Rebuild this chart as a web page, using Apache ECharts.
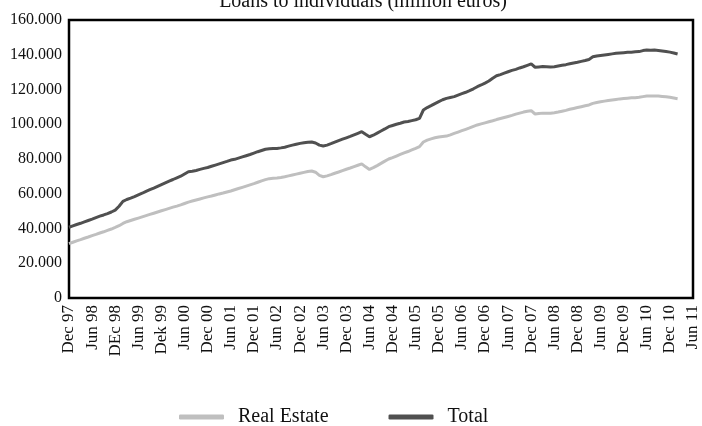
<!DOCTYPE html>
<html>
<head>
<meta charset="utf-8">
<script src="https://cdn.jsdelivr.net/npm/echarts@6/dist/echarts.min.js"></script>
<style>
  html, body { margin: 0; padding: 0; background: #fff; }
  #chart { width: 702px; height: 426px; }
</style>
</head>
<body>
<div id="chart"></div>
<script>
// half-year tick labels, as printed (typos kept)
var tickLabels = ['Dec 97', 'Jun 98', 'DEc 98', 'Jun 99', 'Dek 99', 'Jun 00', 'Dec 00',
  'Jun 01', 'Dec 01', 'Jun 02', 'Dec 02', 'Jun 03', 'Dec 03', 'Jun 04', 'Dec 04',
  'Jun 05', 'Dec 05', 'Jun 06', 'Dec 06', 'Jun 07', 'Dec 07', 'Jun 08', 'Dec 08',
  'Jun 09', 'Dec 09', 'Jun 10', 'Dec 10', 'Jun 11']

// monthly values Dec 97 .. Feb 11, thousands of million euros
var realEstate = [
  31.3, 32.1, 32.9, 33.6, 34.4, 35.1, 35.9, 36.6, 37.4, 38.1, 38.9, 39.7, 40.6,
  41.6, 42.9, 43.9, 44.6, 45.3, 46.0, 46.7, 47.4, 48.1, 48.8, 49.5, 50.2,
  50.9, 51.6, 52.3, 52.9, 53.6, 54.4, 55.2, 55.8, 56.4, 57.0, 57.6, 58.2,
  58.7, 59.3, 59.9, 60.4, 61.0, 61.6, 62.3, 63.0, 63.7, 64.4, 65.1, 65.8,
  66.6, 67.4, 68.1, 68.7, 68.9, 69.1, 69.4, 69.8, 70.3, 70.8, 71.3, 71.8,
  72.3, 72.8, 73.1, 72.4, 70.6, 69.8, 70.3, 71.0, 71.8, 72.5, 73.3, 74.1,
  74.8, 75.6, 76.4, 77.2, 75.5, 74.0, 75.0, 76.2, 77.5, 78.8, 80.0, 80.8,
  81.7, 82.6, 83.5, 84.3, 85.2, 86.1, 87.1, 89.8, 90.9, 91.6, 92.2, 92.7,
  93.0, 93.2, 93.9, 94.7, 95.5, 96.3, 97.1, 97.9, 98.8, 99.6, 100.2, 100.8,
  101.4, 102.0, 102.7, 103.3, 103.9, 104.5, 105.1, 105.8, 106.4, 107.0, 107.5, 107.8,
  105.9, 106.2, 106.4, 106.3, 106.3, 106.6, 107.0, 107.5, 108.0, 108.6, 109.1, 109.6,
  110.1, 110.6, 111.1, 112.0, 112.5, 112.9, 113.3, 113.7, 114.0, 114.3, 114.6, 114.8,
  115.0, 115.2, 115.3, 115.5, 115.9, 116.2, 116.2, 116.3, 116.2, 116.0, 115.8, 115.5,
  115.1, 114.7
]
var total = [
  40.7, 41.5, 42.3, 43.0, 43.8, 44.6, 45.4, 46.3, 47.1, 47.8, 48.6, 49.5, 50.6,
  52.8, 55.6, 56.7, 57.5, 58.4, 59.4, 60.3, 61.4, 62.4, 63.3, 64.3, 65.3,
  66.3, 67.3, 68.2, 69.2, 70.1, 71.4, 72.7, 72.9, 73.4, 74.0, 74.6, 75.1,
  75.8, 76.5, 77.2, 77.9, 78.6, 79.4, 79.8, 80.5, 81.2, 81.9, 82.6, 83.4,
  84.2, 84.9, 85.6, 85.9, 86.1, 86.1, 86.4, 86.8, 87.4, 88.0, 88.5, 89.0,
  89.4, 89.7, 89.8, 89.2, 88.0, 87.5, 88.0, 88.8, 89.7, 90.6, 91.4, 92.2,
  93.0, 93.9, 94.8, 95.7, 94.2, 92.8, 93.7, 94.9, 96.1, 97.3, 98.6, 99.3,
  100.0, 100.6, 101.3, 101.6, 102.1, 102.6, 103.4, 108.2, 109.6, 110.7, 111.9, 113.0,
  114.1, 114.9, 115.4, 115.9, 116.8, 117.6, 118.4, 119.3, 120.4, 121.6, 122.6, 123.7,
  124.9, 126.5, 127.9, 128.6, 129.4, 130.2, 131.0, 131.6, 132.4, 133.1, 133.9, 134.7,
  132.8, 133.0, 133.2, 133.1, 132.9, 133.1, 133.5, 133.9, 134.3, 134.8, 135.3, 135.7,
  136.2, 136.7, 137.3, 138.8, 139.3, 139.6, 139.9, 140.2, 140.5, 140.8, 141.0, 141.2,
  141.4, 141.5, 141.7, 141.8, 142.4, 142.7, 142.6, 142.7, 142.5, 142.2, 141.9, 141.5,
  141.0, 140.4
]

// one category per month, Dec 97 .. Jun 11
var months = []
for (var i = 0; i <= (tickLabels.length - 1) * 6; i++) {
  months.push(i % 6 === 0 ? tickLabels[i / 6] : '')
}

function toUnits(arr) {
  return arr.map(function(v) { return Math.round(v * 1000) })
}

var font = '"Liberation Serif", "Times New Roman", serif'
var chart = echarts.init(document.getElementById('chart'))

chart.setOption({
  animation: false,
  textStyle: { fontFamily: font },
  title: {
    text: 'Loans to individuals (million euros)',
    left: 358,
    textAlign: 'center',
    top: -13,
    textStyle: { fontFamily: font, fontSize: 20, fontWeight: 'normal', color: '#111' }
  },
  grid: {
    left: 69,
    right: 9,
    top: 20,
    bottom: 128,
    show: true,
    borderColor: '#000',
    borderWidth: 2.5,
    containLabel: false
  },
  legend: {
    top: 402,
    left: 174,
    itemWidth: 45,
    itemHeight: 5,
    itemGap: 60,
    icon: 'roundRect',
    textStyle: { fontFamily: font, fontSize: 20, color: '#111', padding: [0, 0, 0, 9] },
    data: ['Real Estate', 'Total']
  },
  xAxis: {
    type: 'category',
    data: months,
    boundaryGap: false,
    axisLine: { show: false },
    axisTick: { show: false },
    axisLabel: {
      interval: 5,
      rotate: 90,
      margin: 7,
      fontFamily: font,
      fontSize: 17,
      color: '#111'
    },
    splitLine: { show: false }
  },
  yAxis: {
    type: 'value',
    min: 0,
    max: 160000,
    interval: 20000,
    axisLine: { show: false },
    axisTick: { show: false },
    splitLine: { show: false },
    axisLabel: {
      margin: 7,
      fontFamily: font,
      fontSize: 16,
      color: '#111',
      formatter: function(v) {
        return v === 0 ? '0' : (v / 1000) + '.000'
      }
    }
  },
  series: [
    {
      name: 'Real Estate',
      type: 'line',
      data: toUnits(realEstate),
      showSymbol: false,
      color: '#bfbfbf',
      lineStyle: { width: 3, color: '#bfbfbf' }
    },
    {
      name: 'Total',
      type: 'line',
      data: toUnits(total),
      showSymbol: false,
      color: '#505050',
      lineStyle: { width: 3, color: '#505050' }
    }
  ]
})
</script>
</body>
</html>
